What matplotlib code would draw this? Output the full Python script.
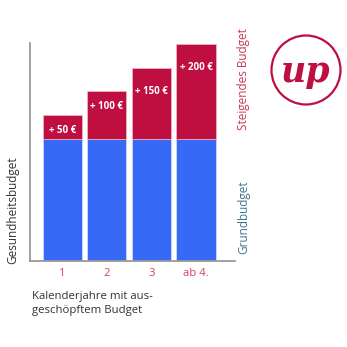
import matplotlib
matplotlib.use("Agg")
import matplotlib.pyplot as plt
from matplotlib.patches import Circle

categories = ["1", "2", "3", "ab 4."]
grundbudget = [260, 260, 260, 260]
steigerung = [50, 100, 150, 200]
bar_labels = ["+ 50 €", "+ 100 €", "+ 150 €", "+ 200 €"]

BLUE = "#3869f6"
RED = "#bf0f40"
TICK = "#d2406a"
TEAL = "#3d7590"
GRAY = "#9a9a9a"

plt.rcParams['font.family'] = ['Open Sans', 'DejaVu Sans']

fig = plt.figure(figsize=(3.47, 3.47), dpi=100)
ax = fig.add_axes([0.0865, 0.2464, 0.5905, 0.6296])

x = list(range(len(categories)))
ax.bar(x, grundbudget, width=0.88, color=BLUE, edgecolor="#e8eefc", linewidth=0.4)
tops = [g + s for g, s in zip(grundbudget, steigerung)]
ax.bar(x, steigerung, bottom=grundbudget, width=0.88, color=RED,
       edgecolor="#f0c8d2", linewidth=0.4)

for xi, top, s, lab in zip(x, tops, steigerung, bar_labels):
    off = 11 if s <= 100 else 17
    ax.annotate(lab, (xi, top), xytext=(0, -off), textcoords="offset points",
                ha="center", va="center", color="white", fontsize=7,
                fontweight="bold")

ax.set_xlim(-0.72, 3.87)
ax.set_ylim(0, 462)
ax.set_xticks(x)
ax.set_xticklabels(categories, color=TICK, fontsize=8.2)
ax.tick_params(axis="x", length=0, pad=5)
ax.set_yticks([])
for sp in ["top", "right"]:
    ax.spines[sp].set_visible(False)
for sp in ["left", "bottom"]:
    ax.spines[sp].set_color(GRAY)
    ax.spines[sp].set_linewidth(1.3)

fig.text(13 / 347, 1 - 210 / 347, "Gesundheitsbudget", rotation=90,
         ha="center", va="center", fontsize=8.5, color="#333333")
fig.text(32 / 347, 1 - 296 / 347, "Kalenderjahre mit aus-",
         ha="left", va="center", fontsize=8.2, color="#333333")
fig.text(32 / 347, 1 - 310 / 347, "geschöpftem Budget",
         ha="left", va="center", fontsize=8.2, color="#333333")
fig.text(244 / 347, 1 - 217 / 347, "Grundbudget", rotation=90,
         ha="center", va="center", fontsize=8.5, color=TEAL)
fig.text(244 / 347, 1 - 79 / 347, "Steigendes Budget", rotation=90,
         ha="center", va="center", fontsize=8.5, color="#c8385a")

circ = Circle((306 / 347, 1 - 70 / 347), 34.5 / 347, transform=fig.transFigure,
              fill=False, edgecolor=RED, linewidth=1.6)
fig.add_artist(circ)
fig.text(306 / 347, 1 - 72 / 347, "up", ha="center", va="center",
         fontsize=25, fontweight="bold", fontstyle="italic", color=RED,
         family=["DejaVu Serif"])

fig.savefig("out.png", dpi=100)
